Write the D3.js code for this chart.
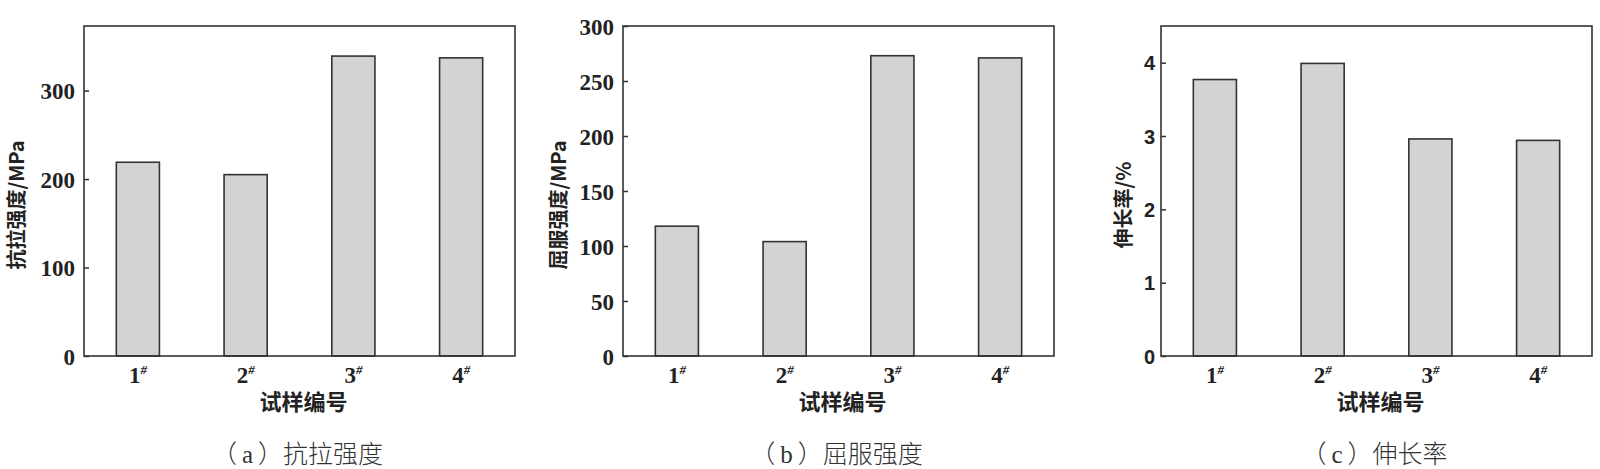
<!DOCTYPE html>
<html>
<head>
<meta charset="utf-8">
<script src="https://cdn.jsdelivr.net/npm/d3@7"></script>
<style>
  body { margin: 0; background: #fff; }
  svg { display: block; }
</style>
</head>
<body>
<div id="chart"></div>
<script>
// data
var samples = ["1", "2", "3", "4"];
var tensile = [219, 205, 339, 337];      // 抗拉强度 MPa
var yieldStr = [118, 104, 273, 271];     // 屈服强度 MPa
var elong = [3.77, 3.99, 2.96, 2.94];    // 伸长率 %

var tensileTicks = [0, 100, 200, 300];
var yieldTicks = [0, 50, 100, 150, 200, 250, 300];
var elongTicks = [0, 1, 2, 3, 4];

var panelLetters = ["a", "b", "c"];
var panelNames = ["抗拉强度", "屈服强度", "伸长率"];
var yTitles = ["抗拉强度/MPa", "屈服强度/MPa", "伸长率/%"];
var xTitle = "试样编号";

var w = 1600, h = 469;
var plotTop = 26, plotBottom = 356, pw = 431;

var svg = d3.select("#chart").append("svg")
  .attr("width", w)
  .attr("height", h);

var panels = [
  { left: 84, values: tensile, max: 373, ticks: tensileTicks, i: 0, labX: -67, tickFont: "'Liberation Serif', serif", tickSize: 23, pad: 9 },
  { left: 623, values: yieldStr, max: 300, ticks: yieldTicks, i: 1, labX: -64, tickFont: "'Liberation Serif', serif", tickSize: 23, pad: 9 },
  { left: 1161, values: elong, max: 4.5, ticks: elongTicks, i: 2, labX: -37, tickFont: "'Liberation Sans', sans-serif", tickSize: 20, pad: 6 }
];

panels.forEach(function(p) {
  var x = d3.scaleBand()
    .domain(samples)
    .range([p.left, p.left + pw])
    .paddingInner(0.6)
    .paddingOuter(0.3);

  var y = d3.scaleLinear()
    .domain([0, p.max])
    .range([plotBottom, plotTop]);

  var g = svg.append("g");

  // bars
  g.selectAll("rect.bar")
    .data(p.values)
    .enter().append("rect")
    .attr("class", "bar")
    .attr("x", function(d, i) { return x(samples[i]); })
    .attr("y", function(d) { return y(d); })
    .attr("width", x.bandwidth())
    .attr("height", function(d) { return plotBottom - y(d); })
    .style("fill", "#d3d3d3")
    .style("stroke", "#333")
    .style("stroke-width", 1.6);

  // frame
  g.append("rect")
    .attr("x", p.left)
    .attr("y", plotTop)
    .attr("width", pw)
    .attr("height", plotBottom - plotTop)
    .style("fill", "none")
    .style("stroke", "#333")
    .style("stroke-width", 1.6);

  // y axis, ticks pointing inside
  var yAxis = d3.axisLeft(y)
    .tickValues(p.ticks)
    .tickSizeInner(-5)
    .tickSizeOuter(0)
    .tickPadding(p.pad)
    .tickFormat(d3.format("d"));

  var ya = g.append("g")
    .attr("transform", "translate(" + p.left + ",0)")
    .call(yAxis);
  ya.select(".domain").remove();
  ya.selectAll("line").style("stroke", "#333").style("stroke-width", 1.5);
  ya.selectAll("text")
    .attr("x", -p.pad)
    .style("font-family", p.tickFont)
    .style("font-weight", "bold")
    .style("font-size", p.tickSize + "px")
    .style("fill", "#222")
    .attr("dy", "0.35em");

  // x tick labels with superscript #
  var xl = g.selectAll("text.xlab")
    .data(samples)
    .enter().append("text")
    .attr("class", "xlab")
    .attr("x", function(d) { return x(d) + x.bandwidth() / 2; })
    .attr("y", 383)
    .style("text-anchor", "middle")
    .style("font-family", "'Liberation Serif', serif")
    .style("font-weight", "bold")
    .style("font-size", "23px")
    .style("fill", "#222");
  xl.append("tspan").text(function(d) { return d; });
  xl.append("tspan")
    .attr("dy", -9)
    .style("font-size", "13px")
    .style("font-style", "italic")
    .text("#");

  // x title
  g.append("text")
    .attr("x", p.left + pw / 2 + 4)
    .attr("y", 410)
    .style("text-anchor", "middle")
    .style("font-family", "'Noto Sans CJK SC', sans-serif")
    .style("font-weight", "bold")
    .style("font-size", "22px")
    .style("fill", "#222")
    .text(xTitle);

  // y title
  g.append("text")
    .attr("transform", "translate(" + (p.left + p.labX) + "," + 205 + ") rotate(-90)")
    .attr("dy", "0.35em")
    .style("text-anchor", "middle")
    .style("font-family", "'Noto Sans CJK SC', sans-serif")
    .style("font-weight", "bold")
    .style("font-size", "20px")
    .style("fill", "#222")
    .text(yTitles[p.i]);

  // panel caption
  var cap = g.append("text")
    .attr("x", p.left + pw / 2 - 2)
    .attr("y", 463)
    .style("text-anchor", "middle")
    .style("font-family", "'Noto Sans CJK SC', sans-serif")
    .style("font-weight", "300")
    .style("font-size", "25px")
    .style("fill", "#333");
  cap.append("tspan").text("（");
  cap.append("tspan")
    .style("font-family", "'Liberation Serif', serif")
    .text("\u2009" + panelLetters[p.i] + "\u2009");
  cap.append("tspan").text("）" + panelNames[p.i]);
});
</script>
</body>
</html>
